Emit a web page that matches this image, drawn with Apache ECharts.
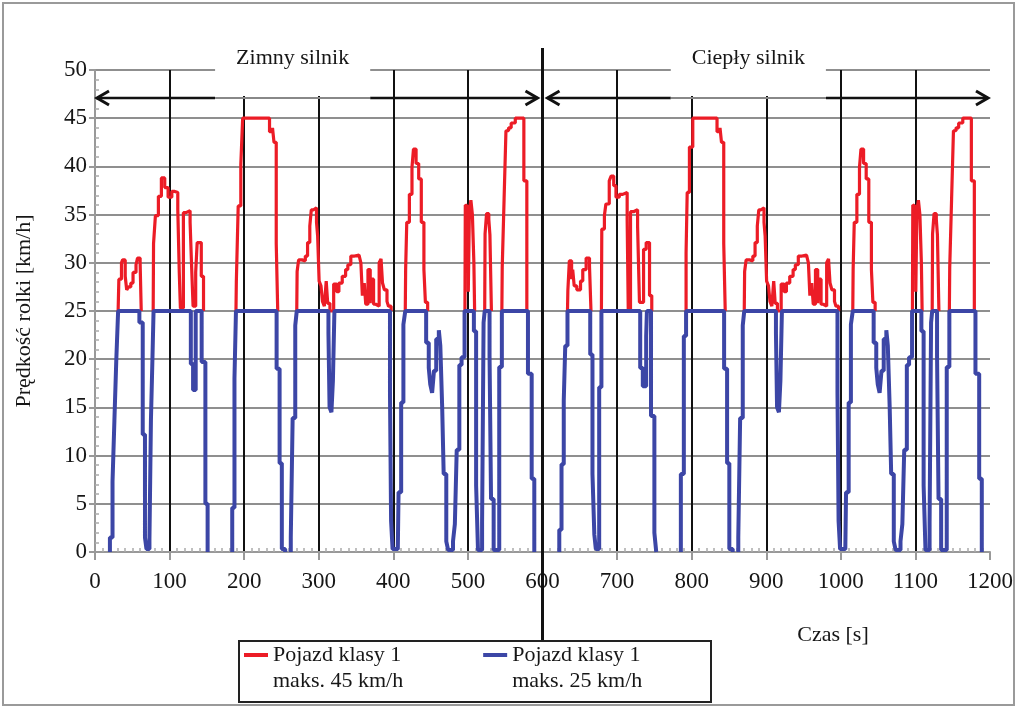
<!DOCTYPE html>
<html>
<head>
<meta charset="utf-8">
<script src="https://cdn.jsdelivr.net/npm/echarts@6/dist/echarts.min.js"></script>
<style>
  html, body { margin: 0; background: #fff; }
  #chart { width: 1024px; height: 711px; }
</style>
</head>
<body>
<div id="chart"></div>
<script>
// '-' breaks the line (no value drawn there)
const GAP = "-";

const seriesNames = ["Pojazd klasy 1\nmaks. 45 km/h", "Pojazd klasy 1\nmaks. 25 km/h"];
const phaseLabels = ["Zimny silnik", "Ciepły silnik"];
const phaseBounds = [[0, 600], [600, 1200]];
const xRange = [0, 1200, 100];
const yRange = [0, 50, 5];

// red: class 1 vehicle, max 45 km/h  [time s, speed km/h], drawn as steps
const redCold = [
  [31, 25], [32, 28.3], [35.5, 30], [37, 30.3], [40.5, 28.6], [42.5, 27.2], [45, 27.5], [48, 27.9],
  [51, 29], [55, 29.8], [57, 30.5], [60.5, 30], [62, 25], [62, GAP],
  [78, 25], [78.5, 32], [81, 34.9], [85, 36.9], [89, 38.8], [93.5, 37.8], [98, 36.8], [103, 37.4],
  [107, 37.3], [111, 35.5], [113, 29], [114.5, 25.3], [118.5, 35.2], [122, 35.4], [127.5, 34.2],
  [129.5, 29.7], [131.5, 25.5], [135, 29], [137, 32.1], [142.5, 28.6], [145.5, 25], [145.5, GAP],
  [189, 25], [189.5, 28], [192, 35.9], [195.5, 40.2], [198, 45], [234, 43.6], [238, 44], [240, 42.5],
  [243, 32], [245, 25], [245, GAP],
  [270.5, 25], [271, 29.1], [273, 30.3], [277.5, 30.2], [282, 30.7], [285, 32.1], [288, 33.8],
  [290, 35.5], [293, 35.7], [297, 34.2], [298.5, 32.8], [300.5, 28.1], [303, 27.6], [305, 26],
  [307.5, 25.5], [310, 28.1], [312, 25.8], [315, 25], [320, 27.8], [324, 27], [327, 27.9],
  [331.5, 28.6], [336, 29.3], [339, 29.8], [343, 30.7], [348, 30.8], [354, 30.8], [356.5, 30],
  [358.5, 26.6], [361, 27.9], [363, 25.7], [366, 29.3], [369, 25.8], [370.5, 28.3], [373.5, 25.7],
  [376.5, 25.5], [381, 30], [383.5, 30.4], [385.5, 27.9], [388, 27.2], [391.5, 26], [393.5, 25.5],
  [397, 25], [397, GAP],
  [416, 25], [416.5, 29.3], [418, 34.2], [421.5, 37.1], [425, 39.9], [427, 41.8], [430.5, 40.3],
  [434, 38.7], [437.5, 34.2], [441, 29.3], [443, 25.9], [446, 25], [446, GAP],
  [496, 25], [496.5, 36], [499, 35.8], [500.5, 27], [502, 35.5], [504, 36.5], [506, 35], [508, 30],
  [509, 25], [509, GAP],
  [522.5, 25], [523, 33], [525, 35.1], [528, 34.5], [529.5, 32.9], [531.5, 25], [531.5, GAP],
  [545.5, 25], [546, 29.5], [548.5, 36.6], [551, 43.7], [554.5, 44], [558, 44.5], [563.5, 45],
  [575, 38.5], [579, 25], [579, GAP]
];

const redWarm = [
  [633.5, 25], [634, 27.1], [636, 30.2], [639, 28.3], [640.5, 29.3], [642.5, 27.6], [646, 27.2],
  [651, 28.1], [654, 29.3], [658.5, 30.5], [663, 29.7], [665, 25], [665, GAP],
  [679, 25], [679.5, 33.5], [683, 34.9], [685, 36.1], [689.5, 38.5], [692, 39], [695.5, 38],
  [698.5, 36.8], [703, 37.1], [707.5, 37.3], [713.5, 34.5], [715, 25], [718, 35.3], [722, 35.5],
  [727.5, 33.8], [730, 25.9], [735.5, 31.4], [739, 32.1], [743.5, 26.6], [746.5, 25], [746.5, GAP],
  [792.5, 25], [792.5, 31], [794, 37.3], [797, 42], [801.5, 45], [834, 43.6], [838, 44], [840, 42.5],
  [843, 32], [845, 25], [845, GAP],
  [870.5, 25], [871, 29.1], [873, 30.3], [877.5, 30.2], [882, 30.7], [885, 32.1], [888, 33.8],
  [890, 35.5], [893, 35.7], [897, 34.2], [898.5, 32.8], [900.5, 28.1], [903, 27.6], [905, 26],
  [907.5, 25.5], [910, 28.1], [912, 25.8], [915, 25], [920, 27.8], [924, 27], [927, 27.9],
  [931.5, 28.6], [936, 29.3], [939, 29.8], [943, 30.7], [948, 30.8], [954, 30.8], [956.5, 30],
  [958.5, 26.6], [961, 27.9], [963, 25.7], [966, 29.3], [969, 25.8], [970.5, 28.3], [973.5, 25.7],
  [976.5, 25.5], [981, 30], [983.5, 30.4], [985.5, 27.9], [988, 27.2], [991.5, 26], [993.5, 25.5],
  [997, 25], [997, GAP],
  [1016, 25], [1016.5, 29.3], [1018, 34.2], [1021.5, 37.1], [1025, 39.9], [1027, 41.8], [1030.5, 40.3],
  [1034, 38.7], [1037.5, 34.2], [1041, 29.3], [1043, 25.9], [1046, 25], [1046, GAP],
  [1096, 25], [1096.5, 36], [1099, 35.8], [1100.5, 27], [1102, 35.5], [1104, 36.5], [1106, 35],
  [1108, 30], [1109, 25], [1109, GAP],
  [1122.5, 25], [1123, 33], [1125, 35.1], [1128, 34.5], [1129.5, 32.9], [1131.5, 25], [1131.5, GAP],
  [1145.5, 25], [1146, 29.5], [1148.5, 36.6], [1151, 43.7], [1154.5, 44], [1158, 44.5], [1163.5, 45],
  [1175, 38.5], [1179, 25]
];

// blue: class 1 vehicle, max 25 km/h
const blueCold = [
  [20, 0], [20, 1.5], [23.5, 7.3], [26, 13.6], [28.5, 19.8], [31, 25],
  [59.5, 23.8], [64, 12.2], [67, 1.5], [69, 0.3], [73, 1.3], [75, 13.7], [77, 20], [78.5, 25],
  [128.5, 19.5], [131.5, 16.8], [135, 25],
  [143, 19.7], [148, 5], [151, 0], [151, GAP],
  [184, 0], [184, 4.6], [187, 18], [189, 25],
  [243.5, 19], [247.5, 9.2], [250.5, 0.3], [255, 0], [255, GAP],
  [262.5, 0], [262.5, 1.5], [265, 13.9], [268.5, 23.5], [270.5, 25],
  [313, 22.7], [314.5, 15], [317, 14.5], [319, 17.8], [321, 25],
  [395.5, 16.5], [397, 3.2], [399, 0.3], [406, 0.3], [407, 6.2], [410.5, 15.5], [413.5, 23.6], [416, 25],
  [444, 21.7], [447.5, 19.1], [449.5, 17.4], [452, 16.5], [454.5, 18.8], [457.5, 22.1], [461, 23],
  [463, 21.4], [465.5, 15], [467.5, 8.1], [471, 1.1], [473.5, 0.2],
  [480, 1.1], [482.5, 2.9], [485, 10.6], [488.5, 19.4], [491.5, 20.2], [495.5, 25],
  [508, 22.9], [511, 6.9], [513.5, 0.2], [519, 3], [521, 23.8], [522.5, 25],
  [529, 20.4], [531, 5.5], [534.5, 0.2], [542, 19.2], [545.5, 25],
  [580.5, 18.5], [585.5, 7.6], [589, 0], [589, GAP]
];

const blueWarm = [
  [622.5, 0], [622.5, 2.3], [625.5, 9.1], [628.5, 15.7], [630.5, 21.4], [633.5, 25],
  [664, 20.5], [667, 8.1], [669.5, 1.8], [671.5, 0.3], [676, 17.1], [679, 25],
  [731, 19.1], [734.5, 17.2], [739, 22.4], [740, 25],
  [745.5, 14.1], [750, 2], [752.5, 0], [752.5, GAP],
  [785.5, 0], [785.5, 8.1], [789.5, 22.4], [792.5, 25],
  [843.5, 19], [847.5, 9.2], [850.5, 0.3], [855, 0], [855, GAP],
  [862.5, 0], [862.5, 1.5], [865, 13.9], [868.5, 23.5], [870.5, 25],
  [913, 22.7], [914.5, 15], [917, 14.5], [919, 17.8], [921, 25],
  [995.5, 16.5], [997, 3.2], [999, 0.3], [1006, 0.3], [1007, 6.2], [1010.5, 15.5], [1013.5, 23.6], [1016, 25],
  [1044, 21.7], [1047.5, 19.1], [1049.5, 17.4], [1052, 16.5], [1054.5, 18.8], [1057.5, 22.1], [1061, 23],
  [1063, 21.4], [1065.5, 15], [1067.5, 8.1], [1071, 1.1], [1073.5, 0.2],
  [1080, 1.1], [1082.5, 2.9], [1085, 10.6], [1088.5, 19.4], [1091.5, 20.2], [1095.5, 25],
  [1108, 22.9], [1111, 6.9], [1113.5, 0.2], [1119, 3], [1121, 23.8], [1122.5, 25],
  [1129, 20.4], [1131, 5.5], [1134.5, 0.2], [1142, 19.2], [1145.5, 25],
  [1180.5, 18.5], [1185.5, 7.6], [1189, 0]
];

const FONT = "'Liberation Serif', 'DejaVu Serif', serif";
const RED = "#ec1c26";
const BLUE = "#3c46a6";
const TEXT = "#161616";
const ARROW_LEVEL = 47.1;
// text boxes above the arrows, in seconds
const labelBoxes = [[161, 369], [772, 980]];

const chart = echarts.init(document.getElementById("chart"));

const option = {
  animation: false,
  backgroundColor: "#fff",
  grid: { left: 95, right: 34, top: 70, bottom: 159 },
  legend: {
    data: seriesNames,
    left: 244,
    top: 616,
    padding: 0,
    itemGap: 80,
    itemWidth: 24,
    itemHeight: 4,
    icon: "rect",
    selectedMode: false,
    // empty first line keeps the icon level with the first text line
    formatter: (name) => " \n" + name,
    textStyle: { fontFamily: FONT, fontSize: 22, color: TEXT, lineHeight: 26 },
  },
  xAxis: {
    type: "value",
    min: xRange[0],
    max: xRange[1],
    interval: xRange[2],
    z: 3,
    axisLine: { onZero: false, lineStyle: { color: "#999", width: 2 } },
    axisTick: { length: 8, lineStyle: { color: "#999", width: 2 } },
    minorTick: { show: true, splitNumber: 10, length: -4, lineStyle: { color: "#aaa", width: 1.5 } },
    axisLabel: { fontFamily: FONT, fontSize: 23, color: TEXT, margin: 18, formatter: (v) => String(v) },
    splitLine: { show: true, showMinLine: false, showMaxLine: false, lineStyle: { color: "#111", width: 2 } },
  },
  yAxis: {
    type: "value",
    min: yRange[0],
    max: yRange[1],
    interval: yRange[2],
    name: "Prędkość rolki [km/h]",
    nameLocation: "middle",
    nameGap: 60,
    nameRotate: 90,
    nameTextStyle: { fontFamily: FONT, fontSize: 22, color: TEXT },
    axisLine: { show: true, lineStyle: { color: "#999", width: 2 } },
    axisTick: { show: true, length: 6, lineStyle: { color: "#999", width: 2 } },
    minorTick: { show: true, splitNumber: 5, length: -4, lineStyle: { color: "#aaa", width: 1.5 } },
    axisLabel: { fontFamily: FONT, fontSize: 23, color: TEXT, margin: 8 },
    splitLine: { show: true, lineStyle: { color: "#8f8f8f", width: 2 } },
  },
  series: [
    {
      name: seriesNames[0],
      type: "line",
      step: "end",
      data: redCold.concat(redWarm),
      showSymbol: false,
      connectNulls: false,
      itemStyle: { color: RED },
      lineStyle: { color: RED, width: 3.2 },
    },
    {
      name: seriesNames[1],
      type: "line",
      step: "end",
      data: blueCold.concat(blueWarm),
      showSymbol: false,
      connectNulls: false,
      itemStyle: { color: BLUE },
      lineStyle: { color: BLUE, width: 4 },
    },
  ],
};

chart.setOption(option);

// annotations: phase labels, arrows, phase divider, legend frame, x axis title, outer frame
function px(t, v) {
  return chart.convertToPixel({ gridIndex: 0 }, [t, v]);
}

function chevron(x, y, dir) {
  return {
    type: "polyline",
    z: 12,
    shape: { points: [[x - dir * 12, y - 7], [x, y], [x - dir * 12, y + 7]] },
    style: { stroke: "#111", lineWidth: 3, fill: null },
  };
}

const els = [];
const yTop = px(0, yRange[1])[1];
const yArrow = px(0, ARROW_LEVEL)[1];

phaseBounds.forEach((b, i) => {
  const bx0 = px(labelBoxes[i][0], 0)[0];
  const bx1 = px(labelBoxes[i][1], 0)[0];
  els.push({
    type: "rect", z: 10,
    shape: { x: bx0, y: yTop - 30, width: bx1 - bx0, height: yArrow - 2 - (yTop - 30) },
    style: { fill: "#fff" },
  });
  els.push({
    type: "text", z: 11,
    x: (bx0 + bx1) / 2, y: yTop - 12,
    style: { text: phaseLabels[i], font: "22px " + FONT, fill: TEXT, align: "center", verticalAlign: "middle" },
  });
  const xs = px(b[0], 0)[0] + (i === 0 ? 2 : 5);
  const xe = px(b[1], 0)[0] - (i === 0 ? 5 : 2);
  els.push({ type: "line", z: 11, shape: { x1: xs, y1: yArrow, x2: bx0, y2: yArrow }, style: { stroke: "#111", lineWidth: 2.5 } });
  els.push({ type: "line", z: 11, shape: { x1: bx0, y1: yArrow, x2: bx1, y2: yArrow }, style: { stroke: "#888", lineWidth: 2 } });
  els.push({ type: "line", z: 11, shape: { x1: bx1, y1: yArrow, x2: xe, y2: yArrow }, style: { stroke: "#111", lineWidth: 2.5 } });
  els.push(chevron(xs, yArrow, -1));
  els.push(chevron(xe, yArrow, 1));
});

const xMid = px(phaseBounds[1][0], 0)[0];
els.push({ type: "line", z: 12, shape: { x1: xMid, y1: 48, x2: xMid, y2: 641 }, style: { stroke: "#111", lineWidth: 3 } });
els.push({ type: "rect", z: 12, shape: { x: 239, y: 641, width: 472, height: 61 }, style: { fill: null, stroke: "#222", lineWidth: 2 } });
els.push({
  type: "text", z: 12, x: 833, y: 635,
  style: { text: "Czas [s]", font: "22px " + FONT, fill: TEXT, align: "center", verticalAlign: "middle" },
});
els.push({ type: "rect", z: 12, shape: { x: 3, y: 3, width: 1011, height: 702 }, style: { fill: null, stroke: "#9a9a9a", lineWidth: 2 } });

chart.setOption({ graphic: { elements: els } });

window.addEventListener("resize", () => {
  chart.resize();
});
</script>
</body>
</html>
